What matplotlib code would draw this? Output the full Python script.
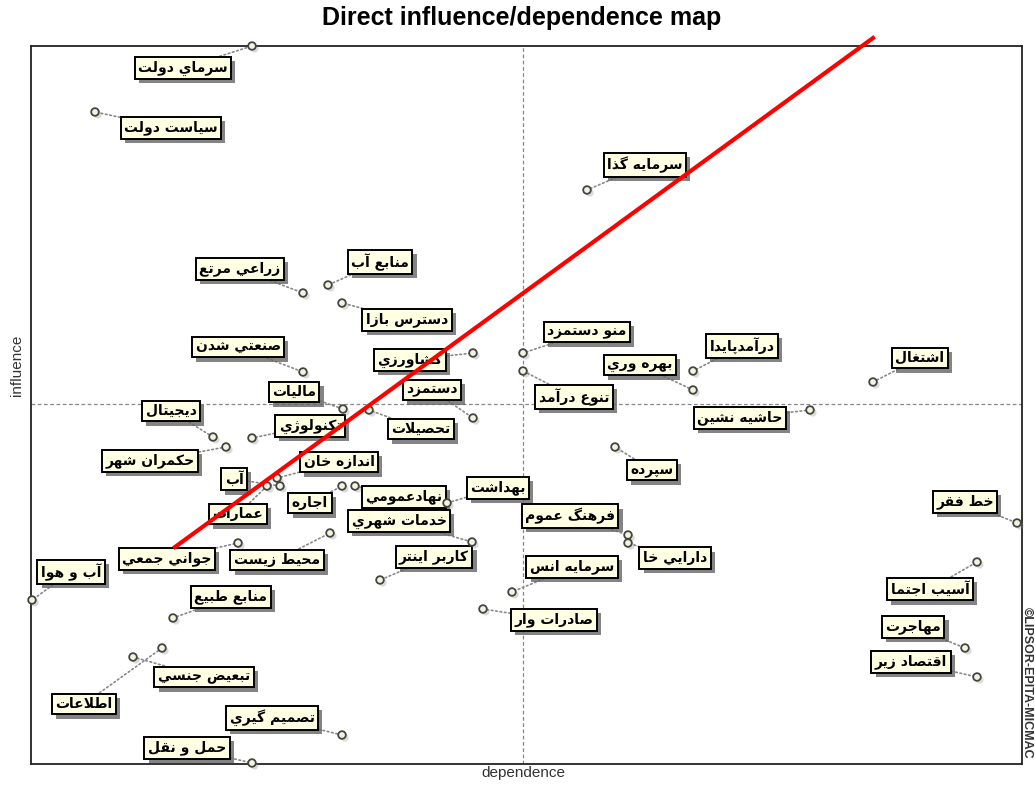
import matplotlib
matplotlib.use("Agg")
import matplotlib.pyplot as plt
import matplotlib.patheffects as pe

# Persian labels as they appear (truncated) on the MICMAC map
labels = [
    "سرماي دولت", "سياست دولت", "سرمايه گذا", "زراعي مرتع", "منابع آب",
    "دسترس بازا", "صنعتي شدن", "كشاورزي", "ماليات", "دستمزد",
    "تحصيلات", "ديجيتال", "تكنولوژي", "حكمران شهر", "اندازه خان",
    "آب", "عمارات", "اجاره", "نهادعمومي", "بهداشت",
    "خدمات شهري", "كاربر اينتر", "جواني جمعي", "محيط زيست", "آب و هوا",
    "منابع طبيع", "تبعيض جنسي", "اطلاعات", "تصميم گيري", "حمل و نقل",
    "منو دستمزد", "تنوع درآمد", "درآمدپايدا", "بهره وري", "حاشيه نشين",
    "اشتغال", "سپرده", "فرهنگ عموم", "دارايي خا", "سرمايه انس",
    "صادرات وار", "خط فقر", "آسيب اجتما", "مهاجرت", "اقتصاد زير",
]
dependence = [
    221, 64, 556, 272, 297,
    311, 272, 442, 312, 442,
    338, 182, 221, 195, 246,
    249, 236, 311, 324, 416,
    441, 349, 207, 299, 1,
    142, 102, 131, 311, 221,
    492, 492, 662, 662, 779,
    842, 584, 597, 597, 481,
    452, 986, 946, 934, 946,
]
influence = [
    718, 652, 574, 471, 479,
    461, 392, 411, 355, 346,
    354, 327, 326, 317, 286,
    278, 278, 278, 278, 261,
    222, 184, 221, 231, 164,
    146, 107, 116, 29, 1,
    411, 393, 393, 374, 354,
    382, 317, 229, 221, 172,
    155, 241, 202, 116, 87,
]
mean_dep = 492
mean_inf = 360
diag_dep = [144, 842]
diag_inf = [217, 726]

# label offsets from each point, in pixels (layout only)
offsets = [
    (-69, -22), (76, -16), (58, 25), (-63, 24), (52, 23),
    (65, -17), (-65, 25), (-63, -7), (-49, 17), (-41, 28),
    (52, -19), (-42, 26), (58, 12), (-76, -14), (62, 16),
    (-46, 7), (-29, -28), (-32, -17), (49, -11), (51, 15),
    (-73, 21), (54, 23), (-71, -16), (-53, -27), (39, 28),
    (58, 21), (71, -20), (-78, -56), (-70, 17), (-65, 15),
    (64, 21), (51, -26), (49, 25), (-53, 25), (-70, -8),
    (47, 24), (37, -23), (-58, 19), (47, -15), (60, 25),
    (71, -11), (-52, 21), (-47, -27), (-52, 21), (-66, 15),
]

# simple arabic shaping (matplotlib has no bidi / joining support)
FORMS = {
    "ا": (0xFE8D, 0xFE8E, None, None), "آ": (0xFE81, 0xFE82, None, None),
    "ب": (0xFE8F, 0xFE90, 0xFE91, 0xFE92), "پ": (0xFB56, 0xFB57, 0xFB58, 0xFB59),
    "ت": (0xFE95, 0xFE96, 0xFE97, 0xFE98), "ث": (0xFE99, 0xFE9A, 0xFE9B, 0xFE9C),
    "ج": (0xFE9D, 0xFE9E, 0xFE9F, 0xFEA0), "چ": (0xFB7A, 0xFB7B, 0xFB7C, 0xFB7D),
    "ح": (0xFEA1, 0xFEA2, 0xFEA3, 0xFEA4), "خ": (0xFEA5, 0xFEA6, 0xFEA7, 0xFEA8),
    "د": (0xFEA9, 0xFEAA, None, None), "ذ": (0xFEAB, 0xFEAC, None, None),
    "ر": (0xFEAD, 0xFEAE, None, None), "ز": (0xFEAF, 0xFEB0, None, None),
    "ژ": (0xFB8A, 0xFB8B, None, None),
    "س": (0xFEB1, 0xFEB2, 0xFEB3, 0xFEB4), "ش": (0xFEB5, 0xFEB6, 0xFEB7, 0xFEB8),
    "ص": (0xFEB9, 0xFEBA, 0xFEBB, 0xFEBC), "ض": (0xFEBD, 0xFEBE, 0xFEBF, 0xFEC0),
    "ط": (0xFEC1, 0xFEC2, 0xFEC3, 0xFEC4), "ظ": (0xFEC5, 0xFEC6, 0xFEC7, 0xFEC8),
    "ع": (0xFEC9, 0xFECA, 0xFECB, 0xFECC), "غ": (0xFECD, 0xFECE, 0xFECF, 0xFED0),
    "ف": (0xFED1, 0xFED2, 0xFED3, 0xFED4), "ق": (0xFED5, 0xFED6, 0xFED7, 0xFED8),
    "ك": (0xFED9, 0xFEDA, 0xFEDB, 0xFEDC), "گ": (0xFB92, 0xFB93, 0xFB94, 0xFB95),
    "ل": (0xFEDD, 0xFEDE, 0xFEDF, 0xFEE0), "م": (0xFEE1, 0xFEE2, 0xFEE3, 0xFEE4),
    "ن": (0xFEE5, 0xFEE6, 0xFEE7, 0xFEE8), "ه": (0xFEE9, 0xFEEA, 0xFEEB, 0xFEEC),
    "و": (0xFEED, 0xFEEE, None, None), "ي": (0xFEF1, 0xFEF2, 0xFEF3, 0xFEF4),
}
LAMALEF = {"ا": (0xFEFB, 0xFEFC), "آ": (0xFEF5, 0xFEF6)}


def dual(c):
    return c in FORMS and FORMS[c][2] is not None


def shape(s):
    out = []
    i = 0
    while i < len(s):
        c = s[i]
        prev = s[i - 1] if i > 0 else ""
        pj = dual(prev)
        if c == "ل" and i + 1 < len(s) and s[i + 1] in LAMALEF:
            out.append(chr(LAMALEF[s[i + 1]][1 if pj else 0]))
            i += 2
            continue
        if c not in FORMS:
            out.append(c)
            i += 1
            continue
        nxt = s[i + 1] if i + 1 < len(s) else ""
        nj = dual(c) and nxt in FORMS
        iso, fin, ini, med = FORMS[c]
        if pj and nj:
            g = med
        elif pj:
            g = fin
        elif nj:
            g = ini
        else:
            g = iso
        out.append(chr(g))
        i += 1
    return "".join(reversed(out))


fig = plt.figure(figsize=(10.35, 7.85), dpi=100)
ax = fig.add_axes([31 / 1035, 1 - 764 / 785, 991 / 1035, 718 / 785])
ax.set_xlim(0, 991)
ax.set_ylim(0, 718)
ax.set_xticks([])
ax.set_yticks([])
for s in ax.spines.values():
    s.set_linewidth(1.3)
    s.set_color("#222222")

ax.axvline(mean_dep, color="#888888", ls=(0, (3, 2)), lw=0.9, zorder=1)
ax.axhline(mean_inf, color="#888888", ls=(0, (3, 2)), lw=0.9, zorder=1)

shadow = [pe.SimplePatchShadow(offset=(3, -3), shadow_rgbFace="#666666", alpha=0.8), pe.Normal()]

for lab, x, y, (dx, dy) in zip(labels, dependence, influence, offsets):
    t = ax.annotate(shape(lab), (x, y), xytext=(dx, dy), textcoords="offset pixels",
                    ha="center", va="center", fontsize=10, fontweight="bold",
                    family="DejaVu Sans", color="black", zorder=5,
                    bbox=dict(boxstyle="square,pad=0.25", fc="#ffffe4", ec="black", lw=1.4),
                    arrowprops=dict(arrowstyle="-", ls=":", color="#888888", lw=1.2,
                                    shrinkA=0, shrinkB=3),
                    annotation_clip=False)
    t.get_bbox_patch().set_path_effects(shadow)

pts = ax.scatter(dependence, influence, s=30, facecolor="#f4f4dc", edgecolor="#444444",
                 linewidth=1.3, zorder=6, clip_on=False)
pts.set_path_effects([pe.SimplePatchShadow(offset=(2, -2), shadow_rgbFace="#888888"), pe.Normal()])

ax.plot(diag_dep, diag_inf, color="red", lw=3, zorder=7, clip_on=False)

fig.text(522 / 1035, 1 - 18 / 785, "Direct influence/dependence map", ha="center", va="center",
         fontsize=18, fontweight="bold", family="Liberation Sans")
fig.text(523 / 1035, 1 - 773 / 785, "dependence", ha="center", va="center",
         fontsize=11, family="Liberation Sans", color="#333333")
fig.text(17 / 1035, 1 - 365 / 785, "influence", ha="center", va="center", rotation=90,
         fontsize=11, family="Liberation Sans", color="#333333")
fig.text(1027 / 1035, 1 - 683 / 785, "©LIPSOR-EPITA-MICMAC", ha="center", va="center",
         rotation=-90, fontsize=9, fontweight="bold", family="Liberation Sans", color="#333333")

fig.savefig("out.png", dpi=100)
